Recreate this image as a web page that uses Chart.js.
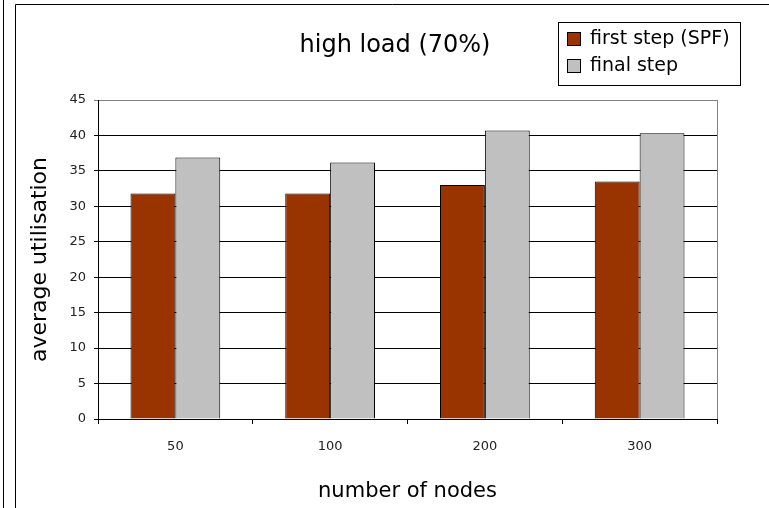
<!DOCTYPE html>
<html>
<head>
<meta charset="utf-8">
<title>high load (70%)</title>
<script src="https://cdn.jsdelivr.net/npm/chart.js@4/dist/chart.umd.min.js"></script>
<style>
  html, body { margin: 0; padding: 0; background: #fff; }
  #wrap { position: relative; width: 769px; height: 508px; }
</style>
</head>
<body>
<div id="wrap"><canvas id="loadChart" width="769" height="508"></canvas></div>
<script>
'use strict';

// chart data
let nodeCounts = ['50', '100', '200', '300'];
let firstStep = [31.8, 31.8, 33.0, 33.5];
let finalStep = [36.9, 36.2, 40.7, 40.3];
let yTicks = [0, 5, 10, 15, 20, 25, 30, 35, 40, 45];

let chartTitle = 'high load (70%)';
let fontFace = '"DejaVu Sans", Verdana, sans-serif';

// draws the excel-like frame, title and boxed legend
let excelDecor = {
  id: 'excelDecor',
  beforeDraw(chart) {
    let ctx = chart.ctx;
    ctx.save();
    ctx.fillStyle = '#fff';
    ctx.fillRect(0, 0, chart.width, chart.height);
    ctx.strokeStyle = '#000';
    ctx.lineWidth = 1;
    ctx.beginPath();
    ctx.moveTo(3.5, 0);
    ctx.lineTo(3.5, chart.height);
    ctx.moveTo(15.5, chart.height);
    ctx.lineTo(15.5, 4.5);
    ctx.lineTo(chart.width, 4.5);
    ctx.stroke();
    ctx.restore();
  },
  afterDraw(chart) {
    let ctx = chart.ctx;
    let area = chart.chartArea;
    ctx.save();
    // plot area right edge
    ctx.strokeStyle = '#808080';
    ctx.beginPath();
    ctx.moveTo(Math.round(area.right) + 0.5, area.top);
    ctx.lineTo(Math.round(area.right) + 0.5, area.bottom);
    ctx.stroke();

    // title
    ctx.fillStyle = '#000';
    ctx.font = '24px ' + fontFace;
    ctx.textAlign = 'center';
    ctx.textBaseline = 'middle';
    ctx.fillText(chartTitle, 395, 46);

    // legend box
    ctx.strokeStyle = '#000';
    ctx.strokeRect(558.5, 22.5, 182, 63);
    ctx.font = '19px ' + fontFace;
    ctx.textAlign = 'left';
    chart.data.datasets.forEach(function (ds, i) {
      let cy = 39 + i * 27;
      ctx.fillStyle = ds.backgroundColor;
      ctx.fillRect(567, cy - 7, 14, 14);
      ctx.strokeRect(567.5, cy - 6.5, 13, 13);
      ctx.fillStyle = '#000';
      ctx.fillText(ds.label, 590, cy);
    });
    ctx.restore();
  }
};

let ctx = document.getElementById('loadChart').getContext('2d');

new Chart(ctx, {
  type: 'bar',
  data: {
    labels: nodeCounts,
    datasets: [
      {
        label: 'first step (SPF)',
        data: firstStep,
        backgroundColor: '#993300',
        borderColor: '#000',
        borderWidth: 1
      },
      {
        label: 'final step',
        data: finalStep,
        backgroundColor: '#C0C0C0',
        borderColor: '#000',
        borderWidth: 1
      }
    ]
  },
  options: {
    responsive: false,
    animation: false,
    devicePixelRatio: 1,
    layout: {
      padding: { left: 20, right: 52, top: 100, bottom: 0 }
    },
    datasets: {
      bar: { categoryPercentage: 0.58, barPercentage: 1.0 }
    },
    scales: {
      x: {
        grid: {
          offset: true,
          drawOnChartArea: false,
          drawTicks: true,
          tickLength: 5,
          color: '#000'
        },
        border: { color: '#000' },
        ticks: {
          color: '#222',
          padding: 15,
          font: { family: fontFace, size: 13 }
        },
        title: {
          display: true,
          text: 'number of nodes',
          color: '#000',
          padding: { top: 0, bottom: 4 },
          font: { family: fontFace, size: 21 }
        },
        afterFit(scale) {
          scale.height = 89;
        }
      },
      y: {
        min: 0,
        max: 45,
        afterBuildTicks(scale) {
          scale.ticks = yTicks.map(function (v) { return { value: v }; });
        },
        grid: {
          tickLength: 4,
          color: function (c) {
            return c.tick && c.tick.value === 45 ? '#808080' : '#000';
          }
        },
        border: { color: '#000' },
        ticks: {
          color: '#222',
          padding: 8,
          font: { family: fontFace, size: 13 }
        },
        title: {
          display: true,
          text: 'average utilisation',
          color: '#000',
          padding: { top: 7, bottom: 0 },
          font: { family: fontFace, size: 22 }
        },
        afterFit(scale) {
          scale.width = 78;
        }
      }
    },
    plugins: {
      legend: { display: false },
      title: { display: false },
      tooltip: { enabled: false }
    }
  },
  plugins: [excelDecor]
});
</script>
</body>
</html>
